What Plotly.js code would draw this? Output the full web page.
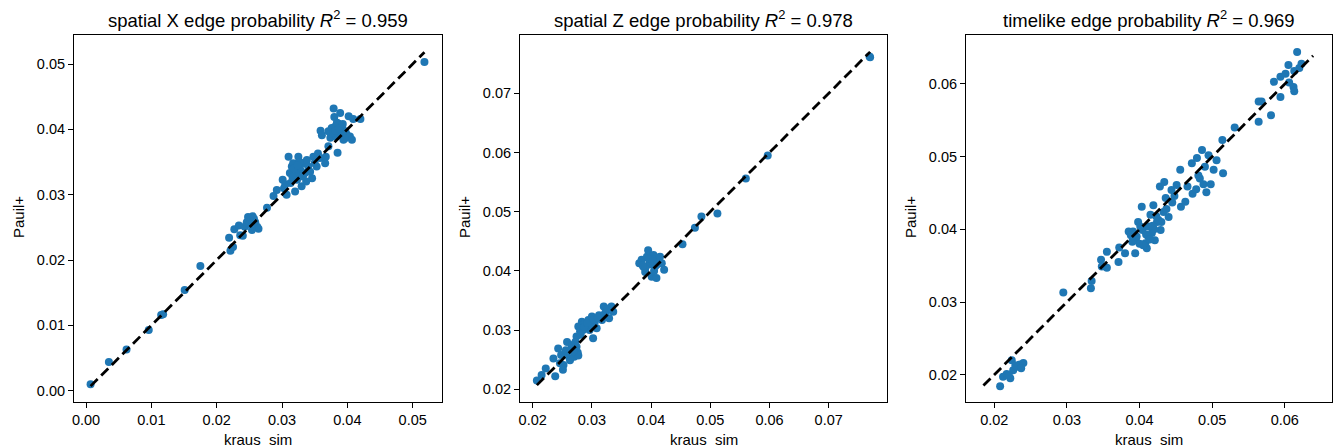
<!DOCTYPE html>
<html>
<head>
<meta charset="utf-8">
<script src="https://cdn.plot.ly/plotly-3.0.1.min.js"></script>
<style>html,body{margin:0;padding:0;background:#fff;}#chart{width:1333px;height:447px;}</style>
</head>
<body>
<div id="chart"></div>
<script>
// ---- data: spatial X edge probability ----
var xX = [0.0007,0.0035,0.0062,0.0096,0.0115,0.0118,0.0151,0.0175,0.0277,0.0518,
  0.0219,0.0221,0.0225,0.0227,0.0234,0.0240,0.0243,0.0246,0.0251,0.0255,0.0259,0.0262,0.0264,0.0254,0.0248,0.0236,0.0257,0.0250,
  0.0287,0.0292,0.0301,0.0307,0.0310,0.0312,0.0315,0.0317,0.0320,0.0323,0.0325,0.0328,0.0330,0.0333,0.0335,0.0338,0.0340,0.0346,0.0348,0.0353,0.0355,0.0358,0.0322,0.0313,0.0303,0.0327,0.0318,0.0343,
  0.0305,0.0316,0.0324,0.0332,0.0337,0.0350,
  0.0359,0.0361,0.0366,0.0367,0.0371,0.0374,0.0376,0.0379,0.0380,0.0381,0.0383,0.0385,0.0386,0.0389,0.0390,0.0392,0.0394,0.0397,0.0399,0.0402,0.0404,0.0407,0.0409,0.0420,0.0371,0.0376,0.0384,0.0378,0.0388,
  0.0382,0.0387,0.0393,0.0396];
var yX = [0.0010,0.0044,0.0063,0.0093,0.0116,0.0117,0.0154,0.0191,0.0280,0.0503,
  0.0234,0.0214,0.0220,0.0247,0.0253,0.0237,0.0251,0.0258,0.0261,0.0267,0.0258,0.0251,0.0248,0.0246,0.0266,0.0238,0.0263,0.0255,
  0.0298,0.0307,0.0323,0.0300,0.0358,0.0333,0.0343,0.0348,0.0305,0.0323,0.0358,0.0338,0.0313,0.0348,0.0333,0.0353,0.0343,0.0325,0.0358,0.0343,0.0363,0.0356,0.0330,0.0318,0.0310,0.0350,0.0340,0.0335,
  0.0316,0.0327,0.0345,0.0328,0.0320,0.0348,
  0.0398,0.0391,0.0348,0.0358,0.0374,0.0387,0.0393,0.0432,0.0419,0.0404,0.0389,0.0364,0.0409,0.0425,0.0394,0.0404,0.0384,0.0397,0.0392,0.0420,0.0389,0.0384,0.0416,0.0416,0.0397,0.0402,0.0410,0.0395,0.0400,
  0.0398,0.0401,0.0408,0.0386];
var lineX = [0.0007,0.0518];

// ---- data: spatial Z edge probability ----
var xZ = [0.0207,0.0453,0.0474,0.0485,0.0512,0.0560,0.0597,0.0770,0.0769,
  0.0215,0.0222,0.0235,0.0238,0.0243,0.0246,0.0251,0.0255,0.0258,0.0263,0.0266,0.0270,0.0274,0.0276,0.0277,0.0280,0.0283,0.0285,0.0290,0.0294,0.0296,0.0300,0.0302,0.0305,0.0308,0.0312,0.0317,0.0320,0.0324,0.0329,0.0333,0.0336,
  0.0274,0.0267,0.0260,0.0252,0.0277,0.0288,0.0298,0.0315,
  0.0248,0.0256,0.0262,0.0269,0.0272,0.0281,0.0287,0.0292,0.0303,0.0310,0.0322,0.0327,
  0.0380,0.0384,0.0387,0.0390,0.0393,0.0395,0.0397,0.0401,0.0404,0.0407,0.0409,0.0412,0.0415,0.0418,0.0422,0.0390,0.0399,0.0405,0.0402,
  0.0386,0.0396,0.0403,0.0410];
var yZ = [0.0215,0.0445,0.0473,0.0492,0.0497,0.0556,0.0595,0.0761,0.0762,
  0.0224,0.0235,0.0252,0.0222,0.0269,0.0244,0.0233,0.0260,0.0280,0.0249,0.0272,0.0255,0.0289,0.0262,0.0306,0.0298,0.0314,0.0300,0.0309,0.0317,0.0300,0.0323,0.0286,0.0314,0.0303,0.0325,0.0317,0.0340,0.0331,0.0320,0.0340,0.0331,
  0.0272,0.0275,0.0265,0.0241,0.0257,0.0312,0.0310,0.0320,
  0.0258,0.0266,0.0253,0.0264,0.0280,0.0292,0.0305,0.0312,0.0318,0.0321,0.0328,0.0336,
  0.0413,0.0419,0.0407,0.0398,0.0424,0.0435,0.0411,0.0390,0.0427,0.0408,0.0388,0.0419,0.0424,0.0413,0.0402,0.0405,0.0415,0.0400,0.0420,
  0.0409,0.0420,0.0416,0.0411];
var lineZ = [0.0207,0.0770];

// ---- data: timelike edge probability ----
var xT = [0.0208,0.0212,0.0217,0.0222,0.0224,0.0226,0.0231,0.0235,0.0240,0.0229,0.0220,0.0237,
  0.0295,0.0333,0.0334,
  0.0347,0.0348,0.0355,0.0355,0.0371,0.0372,0.0380,0.0385,0.0391,0.0394,0.0395,0.0398,0.0403,0.0404,0.0408,0.0410,0.0412,0.0417,0.0419,0.0421,0.0424,0.0428,0.0429,0.0433,0.0434,0.0436,0.0440,0.0444,0.0445,0.0451,0.0456,0.0457,0.0463,0.0466,0.0472,0.0473,0.0479,0.0481,0.0486,0.0488,0.0490,0.0492,0.0495,0.0498,0.0502,0.0506,0.0515,
  0.0400,0.0405,0.0412,0.0390,0.0420,0.0430,0.0388,0.0415,0.0426,0.0478,0.0483,
  0.0396,0.0409,0.0418,0.0423,0.0414,0.0401,0.0437,0.0448,
  0.0514,0.0531,0.0564,0.0564,0.0568,0.0581,0.0585,0.0594,0.0594,0.0601,0.0605,0.0606,0.0612,0.0613,0.0613,0.0617,0.0623,0.0620];
var yT = [0.0184,0.0197,0.0201,0.0195,0.0220,0.0206,0.0211,0.0214,0.0216,0.0213,0.0199,0.0209,
  0.0313,0.0319,0.0329,
  0.0358,0.0349,0.0369,0.0347,0.0355,0.0375,0.0367,0.0397,0.0397,0.0367,0.0385,0.0410,0.0431,0.0399,0.0381,0.0374,0.0404,0.0395,0.0433,0.0385,0.0410,0.0459,0.0399,0.0424,0.0465,0.0443,0.0417,0.0454,0.0437,0.0461,0.0482,0.0431,0.0438,0.0459,0.0491,0.0449,0.0498,0.0474,0.0509,0.0462,0.0486,0.0451,0.0502,0.0462,0.0482,0.0495,0.0477,
  0.0380,0.0378,0.0390,0.0383,0.0400,0.0410,0.0392,0.0420,0.0413,0.0455,0.0470,
  0.0390,0.0393,0.0405,0.0418,0.0386,0.0404,0.0428,0.0446,
  0.0523,0.0540,0.0548,0.0576,0.0576,0.0557,0.0603,0.0582,0.0610,0.0614,0.0626,0.0602,0.0596,0.0590,0.0618,0.0644,0.0628,0.0622];
var lineT = [0.0185,0.0639];

var titles = ['spatial X edge probability <i>R</i><sup>2</sup> = 0.959',
              'spatial Z edge probability <i>R</i><sup>2</sup> = 0.978',
              'timelike edge probability <i>R</i><sup>2</sup> = 0.969'];
var xLabel = 'kraus\u00a0 sim';
var yLabel = 'Pauil+';

(function () {
var W = 1333, H = 447;
var FONT = 'Liberation Sans, Arial, Helvetica, sans-serif';
var BLUE = '#1f77b4';

function scat(x, y, n) {
  return {type:'scatter', mode:'markers', x:x, y:y, xaxis:'x'+n, yaxis:'y'+n,
    marker:{color:BLUE, size:8, line:{width:0}}, hoverinfo:'skip', showlegend:false};
}
function ln(v, n) {
  return {type:'scatter', mode:'lines', x:v, y:v, xaxis:'x'+n, yaxis:'y'+n,
    line:{color:'#000', width:2.8, dash:'10px,5px'}, hoverinfo:'skip', showlegend:false};
}

var data = [scat(xX,yX,''), ln(lineX,''), scat(xZ,yZ,2), ln(lineZ,2), scat(xT,yT,3), ln(lineT,3)];

var boxes = [[74,441.7],[520,887],[966,1332]];
var boxTop = 35, boxBot = 402;
var ranges = [
  {x:[-0.00184,0.05444], y:[-0.00173,0.05444]},
  {x:[0.01785,0.07985], y:[0.01785,0.07985]},
  {x:[0.0161,0.0665], y:[0.01624,0.06674]}
];

function axis(dom, rng, anchor) {
  return {domain:dom, range:rng, anchor:anchor, autorange:false,
    showline:true, mirror:true, linecolor:'#000', linewidth:1,
    ticks:'outside', ticklen:5, tickwidth:1, tickcolor:'#000',
    tick0:0, dtick:0.01, tickformat:'.2f',
    showgrid:false, zeroline:false,
    tickfont:{family:FONT, size:14.5, color:'#000'}};
}

var layout = {width:W, height:H, margin:{l:0,r:0,t:0,b:0},
  paper_bgcolor:'#fff', plot_bgcolor:'#fff', showlegend:false, annotations:[]};
var ydom = [1 - boxBot/H, 1 - boxTop/H];
var yLabelX = [18, 464, 910];
for (var i = 0; i < 3; i++) {
  var sfx = i === 0 ? '' : String(i+1);
  var xdom = [boxes[i][0]/W, boxes[i][1]/W];
  layout['xaxis'+sfx] = axis(xdom, ranges[i].x, 'y'+sfx);
  layout['yaxis'+sfx] = axis(ydom, ranges[i].y, 'x'+sfx);
  var cx = (boxes[i][0]+boxes[i][1])/2;
  layout.annotations.push({text:titles[i], xref:'paper', yref:'paper', x:cx/W, y:1-19/H,
    xanchor:'center', yanchor:'middle', showarrow:false, font:{family:FONT, size:18.5, color:'#000'}});
  layout.annotations.push({text:xLabel, xref:'paper', yref:'paper', x:cx/W, y:1-439/H,
    xanchor:'center', yanchor:'middle', showarrow:false, font:{family:FONT, size:15, color:'#000'}});
  layout.annotations.push({text:yLabel, xref:'paper', yref:'paper', x:yLabelX[i]/W, y:1-217/H,
    xanchor:'center', yanchor:'middle', textangle:-90, showarrow:false, font:{family:FONT, size:15, color:'#000'}});
}

Plotly.newPlot('chart', data, layout, {staticPlot:true, displayModeBar:false});
})();
</script>
</body>
</html>
